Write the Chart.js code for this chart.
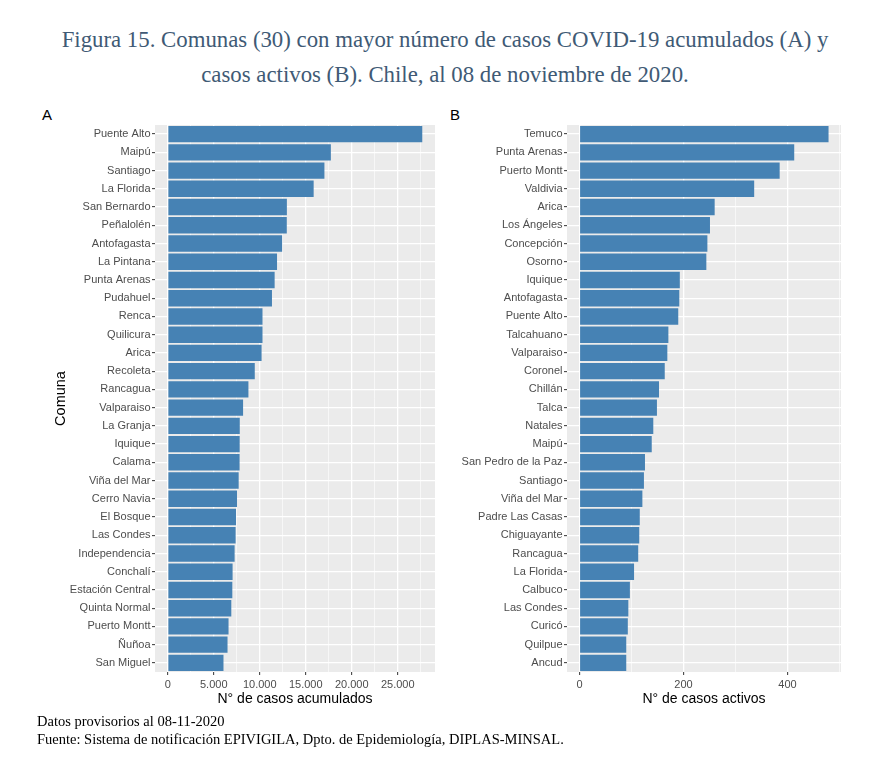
<!DOCTYPE html>
<html>
<head>
<meta charset="utf-8">
<script src="https://cdn.jsdelivr.net/npm/chart.js@4.4.1/dist/chart.umd.min.js"></script>
<style>
  html, body { margin: 0; padding: 0; background: #ffffff; }
  #page { position: relative; width: 896px; height: 774px; overflow: hidden; background: #fff; }
  #title { position: absolute; left: 0; top: 22px; width: 890px; text-align: center;
           font-family: 'Liberation Serif', 'DejaVu Serif', serif; font-size: 22.8px; line-height: 35px; color: #405a75; }
  .panelLabel { position: absolute; top: 106px; font-family: 'Liberation Sans', Arial, sans-serif; font-size: 15px; color: #000; }
  #footer { position: absolute; left: 37px; top: 712px; font-family: 'Liberation Serif', 'DejaVu Serif', serif;
            font-size: 14.5px; line-height: 18px; color: #000; }
  canvas { position: absolute; }
</style>
</head>
<body>
<div id="page">
  <div id="title">Figura 15. Comunas (30) con mayor número de casos COVID-19 acumulados (A) y<br>casos activos (B). Chile, al 08 de noviembre de 2020.</div>
  <div class="panelLabel" style="left:42px;">A</div>
  <div class="panelLabel" style="left:450px;">B</div>
  <canvas id="chartA" width="445" height="620" style="left:0px; top:101px;"></canvas>
  <canvas id="chartB" width="451" height="620" style="left:445px; top:101px;"></canvas>
  <div id="footer">Datos provisorios al 08-11-2020<br>Fuente: Sistema de notificación EPIVIGILA, Dpto. de Epidemiología, DIPLAS-MINSAL.</div>
</div>
<script>
// ---- Data (A): accumulated cases ----
const comunasA = ["Puente Alto","Maipú","Santiago","La Florida","San Bernardo","Peñalolén","Antofagasta","La Pintana",
  "Punta Arenas","Pudahuel","Renca","Quilicura","Arica","Recoleta","Rancagua","Valparaiso","La Granja","Iquique",
  "Calama","Viña del Mar","Cerro Navia","El Bosque","Las Condes","Independencia","Conchalí","Estación Central",
  "Quinta Normal","Puerto Montt","Ñuñoa","San Miguel"];
const casosAcumulados = [27665,17730,17030,15860,12950,12940,12430,11880,11620,11330,10300,10300,10200,9460,8770,
  8190,7830,7820,7810,7710,7530,7420,7380,7270,7050,7020,6910,6610,6500,6060];
const ticksMajorA = [0,5000,10000,15000,20000,25000];
const ticksMinorA = [2500,7500,12500,17500,22500,27500];

// ---- Data (B): active cases ----
const comunasB = ["Temuco","Punta Arenas","Puerto Montt","Valdivia","Arica","Los Ángeles","Concepción","Osorno",
  "Iquique","Antofagasta","Puente Alto","Talcahuano","Valparaiso","Coronel","Chillán","Talca","Natales","Maipú",
  "San Pedro de la Paz","Santiago","Viña del Mar","Padre Las Casas","Chiguayante","Rancagua","La Florida","Calbuco",
  "Las Condes","Curicó","Quilpue","Ancud"];
const casosActivos = [479,413,385,336,260,251,246,244,193,192,190,171,169,164,153,149,142,139,126,124,121,116,115,
  113,105,97,94,93,90,90];
const ticksMajorB = [0,200,400];
const ticksMinorB = [100,300,500];

Chart.defaults.font.family = "'Liberation Sans', Arial, sans-serif";

const panelBg = {
  id: 'panelBg',
  beforeDraw(chart) {
    const {ctx, chartArea: a} = chart;
    ctx.save();
    ctx.fillStyle = '#ebebeb';
    ctx.fillRect(a.left, a.top, a.right - a.left, a.bottom - a.top);
    ctx.restore();
  }
};

function fmt(v) {
  return String(v).replace(/\B(?=(\d{3})+(?!\d))/g, '.');
}

function makeChart(id, labels, values, major, minor, xTitle, yTitle, yWidth, padRight) {
  const maxV = Math.max(...values);
  const allTicks = major.concat(minor).sort((a, b) => a - b);
  const isMajor = v => major.includes(v);
  return new Chart(document.getElementById(id), {
    type: 'bar',
    data: {
      labels: labels,
      datasets: [{
        data: values,
        backgroundColor: '#4682b4',
        borderWidth: 0,
        categoryPercentage: 0.9,
        barPercentage: 1.0
      }]
    },
    options: {
      indexAxis: 'y',
      responsive: false,
      animation: false,
      layout: { padding: { left: 0, right: padRight, top: 24, bottom: 0 } },
      plugins: { legend: { display: false }, tooltip: { enabled: false } },
      scales: {
        x: {
          type: 'linear',
          min: -0.05 * maxV,
          max: 1.05 * maxV,
          afterBuildTicks: (scale) => { scale.ticks = allTicks.map(v => ({ value: v })); },
          afterFit: (scale) => { scale.height = 49; },
          border: { display: false },
          grid: {
            color: '#ffffff',
            lineWidth: (c) => (c.tick && isMajor(c.tick.value)) ? 1.3 : 0.6,
            tickColor: (c) => (c.tick && isMajor(c.tick.value)) ? '#333333' : 'rgba(0,0,0,0)',
            tickLength: 3,
            tickWidth: 1
          },
          ticks: {
            autoSkip: false,
            maxRotation: 0,
            color: '#4d4d4d',
            font: { size: 11 },
            padding: 3,
            callback: (v) => isMajor(v) ? fmt(v) : ''
          },
          title: {
            display: true,
            text: xTitle,
            color: '#000000',
            font: { size: 14 },
            padding: { top: 0, bottom: 13.6 }
          }
        },
        y: {
          type: 'category',
          offset: true,
          afterFit: (scale) => { scale.width = yWidth; },
          border: { display: false },
          grid: {
            offset: false,
            color: '#ffffff',
            lineWidth: 1.3,
            tickColor: '#333333',
            tickLength: 3,
            tickWidth: 1
          },
          ticks: {
            autoSkip: false,
            color: '#4d4d4d',
            font: { size: 11 },
            padding: 1.5
          },
          title: {
            display: !!yTitle,
            text: yTitle || '',
            color: '#000000',
            font: { size: 14.5 },
            padding: { top: 52, bottom: 0 }
          }
        }
      }
    },
    plugins: [panelBg]
  });
}

makeChart('chartA', comunasA, casosAcumulados, ticksMajorA, ticksMinorA, 'N° de casos acumulados', 'Comuna', 155, 10);
makeChart('chartB', comunasB, casosActivos, ticksMajorB, ticksMinorB, 'N° de casos activos', null, 122, 55);
</script>
</body>
</html>
